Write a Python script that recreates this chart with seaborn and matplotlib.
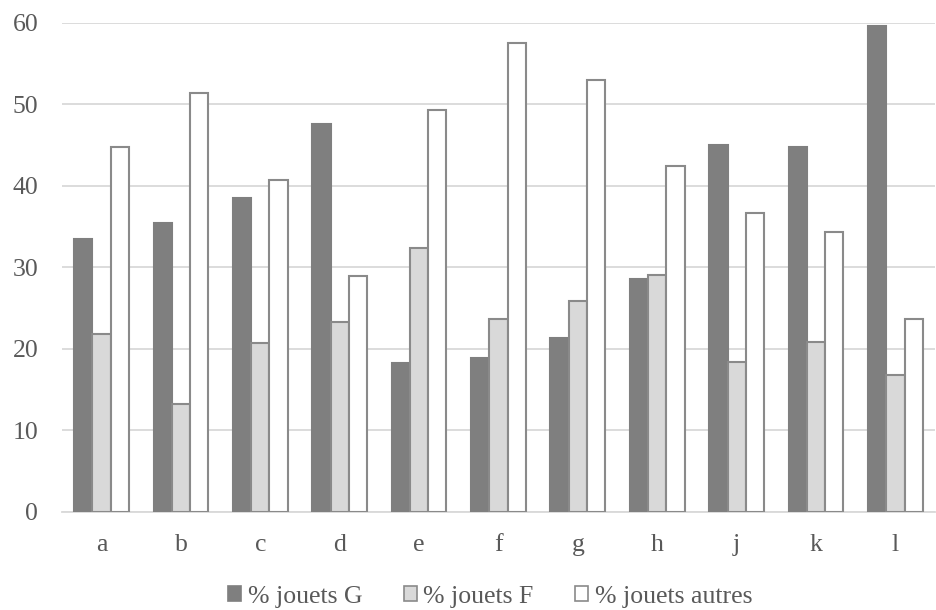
import matplotlib
matplotlib.use("Agg")
import matplotlib.pyplot as plt
from matplotlib.patches import Patch
from matplotlib.font_manager import FontProperties
import seaborn as sns
import pandas as pd

categories = ["a", "b", "c", "d", "e", "f", "g", "h", "j", "k", "l"]
series_names = ["% jouets G", "% jouets F", "% jouets autres"]
jouets_g = [33.4, 35.4, 38.5, 47.6, 18.2, 18.9, 21.3, 28.6, 45.0, 44.8, 59.6]
jouets_f = [21.8, 13.2, 20.7, 23.3, 32.4, 23.6, 25.8, 29.1, 18.4, 20.8, 16.8]
jouets_autres = [44.7, 51.4, 40.7, 28.9, 49.3, 57.5, 52.9, 42.4, 36.6, 34.3, 23.6]
y_ticks = [0, 10, 20, 30, 40, 50, 60]

rows = []
for name, vals in zip(series_names, [jouets_g, jouets_f, jouets_autres]):
    for c, v in zip(categories, vals):
        rows.append({"cat": c, "serie": name, "val": v})
df = pd.DataFrame(rows)

sns.set_style("white")
plt.rcParams["font.family"] = ["Liberation Serif", "DejaVu Serif"]

fills = ["#7f7f7f", "#d9d9d9", "#ffffff"]
edges = ["#7f7f7f", "#8a8a8a", "#8a8a8a"]
FS = 18.5

fig = plt.figure(figsize=(9.37, 6.10), dpi=100)
ax = fig.add_axes([0.066, 0.161, 0.932, 0.802])

sns.barplot(data=df, x="cat", y="val", hue="serie", order=categories,
            hue_order=series_names, palette=fills, width=0.69, ax=ax,
            legend=False, saturation=1)

for cont, ec in zip(ax.containers, edges):
    for p in cont:
        p.set_edgecolor(ec)
        p.set_linewidth(1.5)
        p.set_zorder(3)

ax.set_ylim(0, 60)
ax.set_xlim(-0.5, len(categories) - 0.5)
ax.set_yticks(y_ticks)
ax.yaxis.grid(True, color="#d9d9d9", linewidth=1.3, zorder=0)
ax.set_axisbelow(True)
for s in ["top", "right", "left"]:
    ax.spines[s].set_visible(False)
ax.spines["bottom"].set_color("#d9d9d9")
ax.spines["bottom"].set_linewidth(1.3)
ax.tick_params(axis="both", length=0, labelsize=FS, colors="#595959")
ax.tick_params(axis="x", pad=16)
ax.tick_params(axis="y", pad=17)
ax.set_xlabel("")
ax.set_ylabel("")

handles = [Patch(facecolor=f, edgecolor=e, linewidth=1.2) for f, e in zip(fills, edges)]
prop = FontProperties(family=["Liberation Serif", "DejaVu Serif"], size=FS)
leg = fig.legend(handles, series_names, loc="center", bbox_to_anchor=(0.523, 0.022),
                 ncol=3, frameon=False, prop=prop, handlelength=0.52, handleheight=0.52,
                 handletextpad=0.25, columnspacing=1.6, labelcolor="#595959")

fig.savefig("out.png", dpi=100)
